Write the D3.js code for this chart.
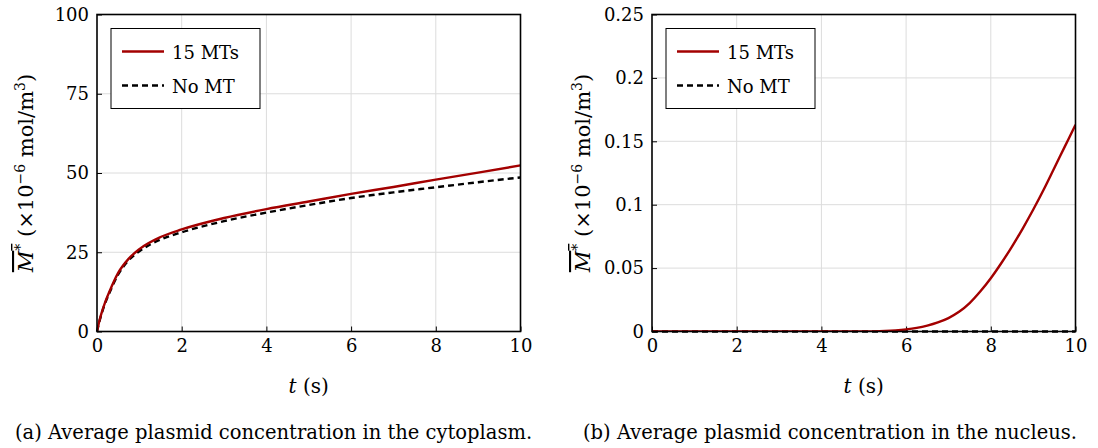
<!DOCTYPE html>
<html>
<head>
<meta charset="utf-8">
<script src="https://cdn.jsdelivr.net/npm/d3@7"></script>
<style>
  body { margin: 0; background: #fff; }
  svg text { font-family: "DejaVu Serif", serif; }
  .grid line { stroke: #dcdcdc; stroke-width: 1; }
</style>
</head>
<body>
<div id="chart"></div>
<script>
// panel (a): cytoplasm
const tA = [0, 0.05, 0.1, 0.2, 0.3, 0.5, 0.75, 1, 1.5, 2, 3, 4, 5, 6, 7, 8, 9, 10];
const mtA = [0, 3, 5.5, 9.5, 12.8, 18.5, 23, 26, 29.8, 32.2, 35.8, 38.6, 41, 43.4, 45.6, 47.9, 50.1, 52.4];
const noMtA = [0, 2.8, 5.2, 9.2, 12.4, 18, 22.5, 25.3, 29, 31.3, 34.8, 37.5, 39.9, 42.1, 43.9, 45.5, 47.1, 48.6];

// panel (b): nucleus
const tB = [0, 1, 2, 3, 4, 5, 5.25, 5.5, 5.75, 6, 6.25, 6.5, 6.75, 7, 7.25, 7.5, 7.75, 8,
    8.25, 8.5, 8.75, 9, 9.25, 9.5, 9.75, 10];
const mtB = [0, 0, 0, 0, 0, 0, 0.0001, 0.0004, 0.0009, 0.0017, 0.0029, 0.0047, 0.0072, 0.0106, 0.0155,
    0.0224, 0.0315, 0.042, 0.054, 0.067, 0.081, 0.096, 0.112, 0.129, 0.146, 0.163];
const noMtB = tB.map(() => 0);

const xTicks = [0, 2, 4, 6, 8, 10];
const yTicksA = [0, 25, 50, 75, 100];
const yTicksB = [0, 0.05, 0.1, 0.15, 0.2, 0.25];
const seriesNames = ["15 MTs", "No MT"];
const captions = [
    "(a) Average plasmid concentration in the cytoplasm.",
    "(b) Average plasmid concentration in the nucleus."
];

const width = 1098, height = 448;
const svg = d3.select("#chart").append("svg")
    .attr("width", width)
    .attr("height", height);

const tickFont = 18;
const labelFont = 20;
const red = "#a30000";

function drawPanel(opt) {
    const left = opt.left, top = 14.5, w = 423.5, h = 317;
    const g = svg.append("g").attr("transform", "translate(" + left + "," + top + ")");

    const x = d3.scaleLinear().domain([0, 10]).range([0, w]);
    const y = d3.scaleLinear().domain(opt.yDomain).range([h, 0]);

    // grid
    const grid = g.append("g").attr("class", "grid");
    grid.selectAll("line.v").data(xTicks.slice(1, -1)).enter().append("line")
        .attr("x1", d => x(d)).attr("x2", d => x(d))
        .attr("y1", 0).attr("y2", h);
    grid.selectAll("line.h").data(opt.yTicks.slice(1, -1)).enter().append("line")
        .attr("x1", 0).attr("x2", w)
        .attr("y1", d => y(d)).attr("y2", d => y(d));

    // inward ticks via axes
    const xAxis = d3.axisBottom(x).tickValues(xTicks).tickSize(-5).tickPadding(8)
        .tickFormat(d3.format("d"));
    const yAxis = d3.axisLeft(y).tickValues(opt.yTicks).tickSize(-5).tickPadding(8)
        .tickFormat(opt.fmt);

    const gx = g.append("g").attr("transform", "translate(0," + h + ")").call(xAxis);
    const gy = g.append("g").call(yAxis);
    [gx, gy].forEach(a => {
        a.attr("font-family", null);
        a.select(".domain").remove();
        a.selectAll(".tick line").attr("stroke", "#000").attr("stroke-width", 1);
        a.selectAll(".tick text").attr("font-size", tickFont).attr("fill", "#000");
    });
    gx.selectAll(".tick text").attr("dy", "0.72em");

    // lines
    const line = (ts) => d3.line()
        .x((d, i) => x(ts[i]))
        .y(d => y(d))
        .curve(d3.curveMonotoneX);

    const clip = "clip" + opt.id;
    g.append("clipPath").attr("id", clip).append("rect")
        .attr("x", 0).attr("y", -2).attr("width", w).attr("height", h + 2);

    g.append("path").datum(opt.noMt)
        .attr("d", line(opt.t))
        .attr("fill", "none").attr("stroke", "#000")
        .attr("stroke-width", 2.4).attr("stroke-dasharray", "6,4");

    g.append("path").datum(opt.mt)
        .attr("d", line(opt.t))
        .attr("fill", "none").attr("stroke", red)
        .attr("stroke-width", 2.4)
        .attr("clip-path", "url(#" + clip + ")");

    // frame
    g.append("rect").attr("x", 0).attr("y", 0).attr("width", w).attr("height", h)
        .attr("fill", "none").attr("stroke", "#000").attr("stroke-width", 1.6);

    // legend
    const lg = g.append("g").attr("transform", "translate(14,14)");
    lg.append("rect").attr("width", 149).attr("height", 80)
        .attr("fill", "#fff").attr("stroke", "#000").attr("stroke-width", 1);
    const styles = [
        { stroke: red, dash: null },
        { stroke: "#000", dash: "6,4" }
    ];
    seriesNames.forEach((name, i) => {
        const cy = 23 + i * 34;
        lg.append("line").attr("x1", 11).attr("x2", 53).attr("y1", cy).attr("y2", cy)
            .attr("stroke", styles[i].stroke).attr("stroke-width", 2.4)
            .attr("stroke-dasharray", styles[i].dash);
        lg.append("text").attr("x", 61).attr("y", cy + 7)
            .attr("font-size", tickFont).text(name);
    });

    // x label
    const xl = svg.append("text")
        .attr("x", left + w / 2).attr("y", 393)
        .attr("text-anchor", "middle").attr("font-size", labelFont);
    xl.append("tspan").attr("font-style", "italic").text("t");
    xl.append("tspan").text(" (s)");

    // y label
    const yl = svg.append("text")
        .attr("transform", "translate(" + opt.ylabX + "," + (top + h / 2) + ") rotate(-90)")
        .attr("text-anchor", "middle").attr("font-size", labelFont + 1);
    const ov = yl.append("tspan").attr("text-decoration", "overline");
    ov.append("tspan").attr("font-style", "italic").text("M");
    ov.append("tspan").attr("dy", -8).attr("font-size", 14).text("*");
    yl.append("tspan").attr("dy", 8).text(" (×10");
    yl.append("tspan").attr("dy", -8).attr("font-size", 14).text("−6");
    yl.append("tspan").attr("dy", 8).text(" mol/m");
    yl.append("tspan").attr("dy", -8).attr("font-size", 14).text("3");
    yl.append("tspan").attr("dy", 8).text(")");

    // caption
    svg.append("text")
        .attr("x", opt.capX).attr("y", 439)
        .attr("font-size", 19.5).text(opt.caption);
}

drawPanel({
    id: "a", left: 97, t: tA, mt: mtA, noMt: noMtA,
    yDomain: [0, 100], yTicks: yTicksA, fmt: d3.format("d"),
    ylabX: 33, capX: 15, caption: captions[0]
});

drawPanel({
    id: "b", left: 652, t: tB, mt: mtB, noMt: noMtB,
    yDomain: [0, 0.25], yTicks: yTicksB, fmt: d => d === 0 ? "0" : String(d),
    ylabX: 590, capX: 583, caption: captions[1]
});
</script>
</body>
</html>
